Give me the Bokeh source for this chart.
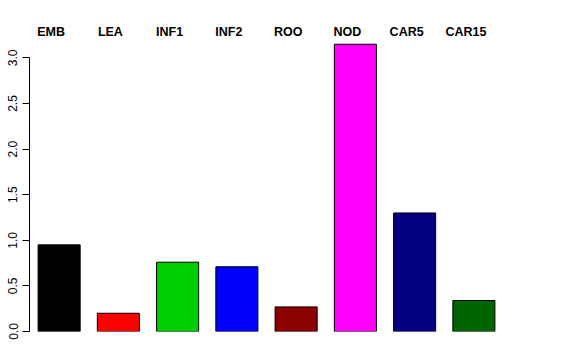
from bokeh.plotting import figure
from bokeh.models import ColumnDataSource, Range1d, FixedTicker, CustomJSTickFormatter
from bokeh.embed import file_html
from bokeh.resources import INLINE
from bokeh.core.properties import value

categories = ["EMB", "LEA", "INF1", "INF2", "ROO", "NOD", "CAR5", "CAR15"]
values = [0.95, 0.20, 0.76, 0.71, 0.27, 3.15, 1.30, 0.34]
colors = ["#000000", "#FF0000", "#00CD00", "#0000FF", "#8B0000", "#FF00FF", "#000080", "#006400"]
y_ticks = [0.0, 0.5, 1.0, 1.5, 2.0, 2.5, 3.0]

Y_END = 3.52

src = ColumnDataSource(dict(cat=categories, val=values, color=colors,
                            top=[Y_END] * len(categories)))

p = figure(width=576, height=360, x_range=categories, y_range=Range1d(0, Y_END),
           output_backend="svg", toolbar_location=None,
           min_border_left=29, min_border_right=73, min_border_top=10, min_border_bottom=29)
p.x_range.range_padding = 0
p.outline_line_color = None
p.grid.visible = False
p.background_fill_color = "white"
p.border_fill_color = "white"

p.vbar(x="cat", top="val", bottom=0, width=0.71, fill_color="color",
       line_color="#000000", line_width=1, source=src)

p.text(x="cat", y="top", text="cat", source=src, text_align="center",
       text_baseline="middle", x_offset=-8, y_offset=21,
       text_font=value("Liberation Sans"), text_font_style="bold",
       text_font_size="12.5px", text_color="#000000")

p.xaxis.visible = False
yax = p.yaxis[0]
yax.ticker = FixedTicker(ticks=y_ticks)
yax.bounds = (0, 3.0)
yax.formatter = CustomJSTickFormatter(code="return tick.toFixed(1);")
yax.major_label_orientation = "vertical"
yax.major_tick_out = 7
yax.major_tick_in = 0
yax.minor_tick_line_color = None
yax.axis_line_color = "#000000"
yax.major_tick_line_color = "#000000"
yax.major_label_text_font = "Liberation Sans"
yax.major_label_text_font_size = "12px"
yax.major_label_text_color = "#000000"
yax.major_label_standoff = 5

open("out.html", "w").write(file_html(p, INLINE))
